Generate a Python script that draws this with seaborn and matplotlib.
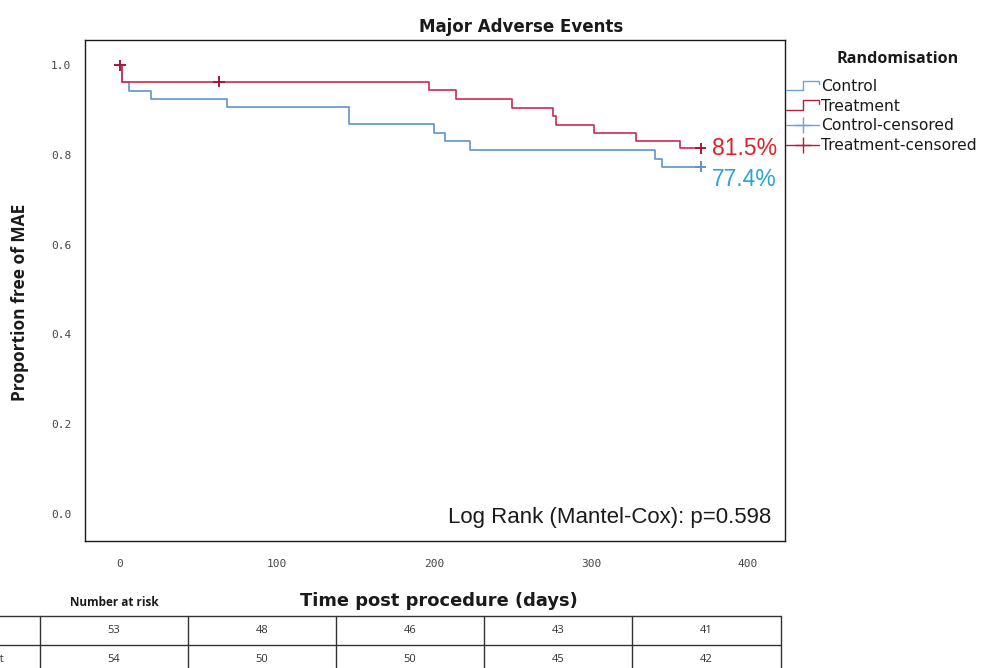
import matplotlib
matplotlib.use("Agg")
import matplotlib.pyplot as plt
import numpy as np
import pandas as pd
import seaborn as sns
from matplotlib.lines import Line2D
from matplotlib.legend_handler import HandlerBase

# Kaplan-Meier step levels (day of change, proportion free of MAE)
control_days = [0, 1, 6, 20, 68, 146, 200, 207, 223, 341, 345, 370]
control_surv = [1.000, 0.962, 0.943, 0.925, 0.906, 0.868, 0.849, 0.830, 0.811, 0.792, 0.774, 0.774]
treatment_days = [0, 1, 197, 214, 250, 276, 278, 302, 329, 357, 370]
treatment_surv = [1.000, 0.963, 0.944, 0.924, 0.905, 0.886, 0.866, 0.848, 0.830, 0.815, 0.815]

# Censored observations
control_cens_days = [370]
control_cens_surv = [0.774]
treatment_cens_days = [0, 63, 370]
treatment_cens_surv = [1.000, 0.963, 0.815]

groups = ["Control", "Treatment"]
p_value = 0.598
x_ticks = [0, 100, 200, 300, 400]
y_ticks = [0.0, 0.2, 0.4, 0.6, 0.8, 1.0]

# Number at risk
at_risk_labels = ["Control", "Treatment"]
at_risk_control = [53, 48, 46, 43, 41]
at_risk_treatment = [54, 50, 50, 45, 42]

line_colors = {"Control": "#5f93c9", "Treatment": "#c92a53"}
mark_colors = {"Control": "#5f93c9", "Treatment": "#a5183c"}
pct_colors = {"Control": "#2aa2da", "Treatment": "#de2229"}
legend_colors = {"Control": "#6ea2d8", "Treatment": "#b0213f"}

curves = pd.concat([
    pd.DataFrame({"day": control_days, "surv": control_surv, "group": "Control"}),
    pd.DataFrame({"day": treatment_days, "surv": treatment_surv, "group": "Treatment"}),
], ignore_index=True)
censored = pd.concat([
    pd.DataFrame({"day": control_cens_days, "surv": control_cens_surv, "group": "Control"}),
    pd.DataFrame({"day": treatment_cens_days, "surv": treatment_cens_surv, "group": "Treatment"}),
], ignore_index=True)

sns.set_theme(style="white")
plt.rcParams["font.family"] = ["DejaVu Sans"]

W, H = 984, 668
fig = plt.figure(figsize=(W / 100, H / 100), dpi=100)


def fx(px):
    return px / W


def fy(py):
    return 1 - py / H


ax = fig.add_axes([fx(85), fy(541), fx(785) - fx(85), fy(40) - fy(541)])

sns.lineplot(data=curves, x="day", y="surv", hue="group", palette=line_colors,
             drawstyle="steps-post", estimator=None, sort=False, legend=False,
             linewidth=1.2, ax=ax)
sns.scatterplot(data=censored, x="day", y="surv", hue="group", palette=mark_colors,
                marker="+", s=65, linewidth=1.4, legend=False, ax=ax, zorder=5)

ax.set_xlim(-22.3, 423.6)
ax.set_ylim(-0.060, 1.056)
ax.set_xticks(x_ticks)
ax.set_yticks(y_ticks)
ax.set_xticklabels([str(t) for t in x_ticks], fontfamily="DejaVu Sans Mono")
ax.set_yticklabels([f"{t:.1f}" for t in y_ticks], fontfamily="DejaVu Sans Mono")
ax.tick_params(axis="both", direction="out", length=5, width=0.8, color="#999999",
               labelsize=8, labelcolor="#444444")
ax.tick_params(axis="x", pad=8)
ax.tick_params(axis="y", pad=5)
ax.set_xlabel("")
ax.set_ylabel("")
for s in ax.spines.values():
    s.set_visible(True)
    s.set_color("#1a1a1a")
    s.set_linewidth(1.0)

# final survival percentages
ends = {
    "Treatment": (treatment_days[-1], treatment_surv[-1], 0),
    "Control": (control_days[-1], control_surv[-1], -9),
}
for g, (d, v, dy) in ends.items():
    ax.annotate(f"{v * 100:.1f}%", xy=(d, v), xytext=(8, dy), textcoords="offset points",
                ha="left", va="center", fontsize=16.5, color=pct_colors[g],
                fontfamily="Liberation Sans")

ax.text(0.98, 0.046, f"Log Rank (Mantel-Cox): p={p_value}", transform=ax.transAxes,
        ha="right", va="center", fontsize=16, color="#1a1a1a", fontfamily="Liberation Sans")

fig.text(fx(521), fy(27), "Major Adverse Events", ha="center", va="center",
         fontsize=12, fontweight="bold", fontfamily="DejaVu Sans", color="#1a1a1a")
fig.text(fx(20), fy(302), "Proportion free of MAE", ha="center", va="center", rotation=90,
         fontsize=12.5, fontweight="bold", fontfamily="Open Sans", color="#1a1a1a")
fig.text(fx(439), fy(601), "Time post procedure (days)", ha="center", va="center",
         fontsize=12.9, fontweight="bold", fontfamily="DejaVu Sans", color="#1a1a1a")


class StepHandler(HandlerBase):
    def create_artists(self, legend, orig_handle, xdescent, ydescent, width, height,
                       fontsize, trans):
        x0 = -xdescent
        y0 = -ydescent + 0.05 * height
        y1 = -ydescent + 0.95 * height
        xs = [x0, x0 + 0.5 * width, x0 + 0.5 * width, x0 + width, x0 + width]
        ys = [y0, y0, y1, y1, y1 - 0.35 * height]
        ln = Line2D(xs, ys, color=orig_handle.get_color(), linewidth=1.0)
        ln.set_transform(trans)
        return [ln]


fig.text(fx(898), fy(59), "Randomisation", ha="center", va="center",
         fontsize=11.6, fontweight="bold", fontfamily="Open Sans", color="#1a1a1a")

step_handles = [Line2D([], [], color=legend_colors[g]) for g in groups]
cens_handles = [Line2D([], [], color=legend_colors[g], marker="+", markersize=11,
                       markeredgewidth=1.0, linewidth=1.0) for g in groups]
leg = fig.legend(step_handles + cens_handles,
                 groups + [f"{g}-censored" for g in groups],
                 handler_map={h: StepHandler() for h in step_handles},
                 loc="upper left", bbox_to_anchor=(fx(786), fy(79)),
                 frameon=False, fontsize=11.2,
                 handlelength=2.15, handletextpad=0.12, labelspacing=0.3,
                 borderaxespad=0, borderpad=0, numpoints=1)
for t in leg.get_texts():
    t.set_color("#1a1a1a")

# Number at risk table, laid out in figure pixels
tab = fig.add_axes([0, 0, 1, 1], zorder=-1)
tab.set_xlim(0, W)
tab.set_ylim(H, 0)
tab.axis("off")
col_edges = [40, 188, 336, 484, 632, 781]
row_edges = [616, 645, 674]
tab.text(114, 603, "Number at risk", ha="center", va="center", fontsize=8.5,
         fontweight="bold", fontfamily="Open Sans", color="#1a1a1a")
for yv in row_edges:
    tab.plot([-20, col_edges[-1]], [yv, yv], color="#333333", lw=1.0)
for xv in col_edges:
    tab.plot([xv, xv], [row_edges[0], row_edges[-1]], color="#333333", lw=1.0)
rows = [at_risk_control, at_risk_treatment]
for r, (lab, vals) in enumerate(zip(at_risk_labels, rows)):
    yc = (row_edges[r] + row_edges[r + 1]) / 2
    tab.text(-50, yc, lab, ha="left", va="center", fontsize=8, fontfamily="Open Sans",
             color="#333333", clip_on=False)
    for c, v in enumerate(vals):
        xc = (col_edges[c] + col_edges[c + 1]) / 2
        tab.text(xc, yc, str(v), ha="center", va="center", fontsize=8,
                 fontfamily="Open Sans", color="#333333")

fig.savefig("out.png", dpi=100)
